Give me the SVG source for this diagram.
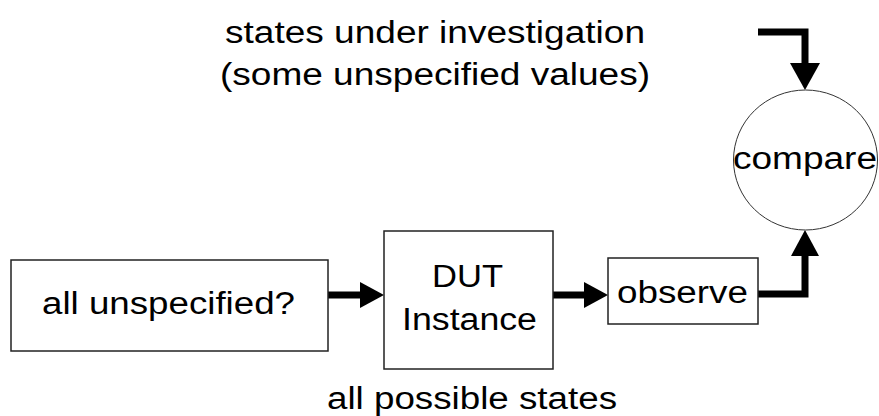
<svg xmlns="http://www.w3.org/2000/svg" width="879" height="416" viewBox="0 0 879 416">
<style>
.box{fill:#fff;stroke:#222;stroke-width:1.5}
.ell{fill:#fff;stroke:#333;stroke-width:1}
.t{font-family:"Liberation Sans",Arial,sans-serif;font-size:31px;fill:#000}
.ln{fill:none;stroke:#000;stroke-width:7;stroke-linejoin:miter}
.hd{fill:#000;stroke:none}
</style>
<rect width="879" height="416" fill="#fff"/>
<g id="label-top">
<text class="t" x="225" y="43" textLength="420" lengthAdjust="spacingAndGlyphs">states under investigation</text>
<text class="t" x="220" y="85" textLength="430" lengthAdjust="spacingAndGlyphs">(some unspecified values)</text>
</g>
<g id="label-bottom">
<text class="t" x="327" y="409" textLength="290" lengthAdjust="spacingAndGlyphs">all possible states</text>
</g>
<g id="connectors">
<path class="ln" d="M328,295 H362"/>
<polygon class="hd" points="360,282 384,295 360,308"/>
<path class="ln" d="M553,295 H586"/>
<polygon class="hd" points="584,282 608,295 584,308"/>
<path class="ln" d="M758,294 H805 V252"/>
<polygon class="hd" points="791,256 805,230 819,256"/>
<path class="ln" d="M758,32 H805 V66"/>
<polygon class="hd" points="790,63 805,90 820,63"/>
</g>
<g id="node-unspecified">
<rect class="box" x="11" y="260" width="317" height="91"/>
<text class="t" x="42" y="314" textLength="253" lengthAdjust="spacingAndGlyphs">all unspecified?</text>
</g>
<g id="node-dut">
<rect class="box" x="384" y="231" width="169" height="138"/>
<text class="t" x="432" y="287" textLength="71" lengthAdjust="spacingAndGlyphs">DUT</text>
<text class="t" x="402" y="330" textLength="135" lengthAdjust="spacingAndGlyphs">Instance</text>
</g>
<g id="node-observe">
<rect class="box" x="608" y="258" width="150" height="66"/>
<text class="t" x="617" y="303" textLength="131" lengthAdjust="spacingAndGlyphs">observe</text>
</g>
<g id="node-compare">
<ellipse class="ell" cx="805.5" cy="160" rx="72" ry="70"/>
<text class="t" x="733" y="169" textLength="144" lengthAdjust="spacingAndGlyphs">compare</text>
</g>
</svg>
